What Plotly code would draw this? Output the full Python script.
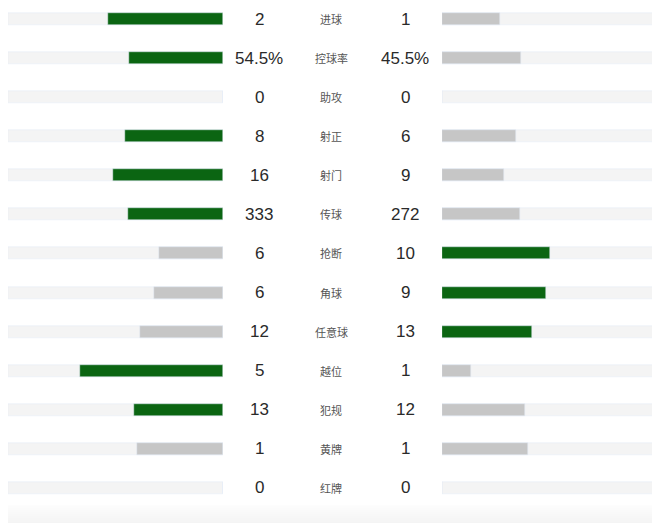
import plotly.graph_objects as go

labels = ["进球", "控球率", "助攻", "射正", "射门", "传球", "抢断", "角球", "任意球", "越位", "犯规", "黄牌", "红牌"]
home_values = [2, 54.5, 0, 8, 16, 333, 6, 6, 12, 5, 13, 1, 0]
away_values = [1, 45.5, 0, 6, 9, 272, 10, 9, 13, 1, 12, 1, 0]
home_text = ["2", "54.5%", "0", "8", "16", "333", "6", "6", "12", "5", "13", "1", "0"]
away_text = ["1", "45.5%", "0", "6", "9", "272", "10", "9", "13", "1", "12", "1", "0"]

GREEN = "#0b6512"
GRAY = "#c6c6c6"
TRACK = "#f4f4f4"
SCALE = 0.8

n = len(labels)
rows = list(range(n))

totals = [h + a for h, a in zip(home_values, away_values)]
home_frac = [0 if t == 0 else h / t * SCALE for h, t in zip(home_values, totals)]
away_frac = [0 if t == 0 else a / t * SCALE for a, t in zip(away_values, totals)]
home_col = [GREEN if h > a else GRAY for h, a in zip(home_values, away_values)]
away_col = [GREEN if a > h else GRAY for h, a in zip(home_values, away_values)]

# page body has an 8px default margin; work in page pixels and offset
OFF = 8
W, H = 660 - OFF, 523 - OFF

def px(x):
    return (x - OFF) / W

row0, step = 19 - OFF, 39.08
y_top = -row0 / step
y_bot = (H - row0) / step
bw = 12 / step

fig = go.Figure()
fig.add_trace(go.Bar(x=[1] * n, y=rows, orientation="h", marker_color=TRACK, width=bw,
                     xaxis="x", yaxis="y", hoverinfo="skip", showlegend=False))
fig.add_trace(go.Bar(x=home_frac, y=rows, orientation="h", marker_color=home_col, width=bw,
                     xaxis="x", yaxis="y", showlegend=False))
fig.add_trace(go.Bar(x=[1] * n, y=rows, orientation="h", marker_color=TRACK, width=bw,
                     xaxis="x2", yaxis="y", hoverinfo="skip", showlegend=False))
fig.add_trace(go.Bar(x=away_frac, y=rows, orientation="h", marker_color=away_col, width=bw,
                     xaxis="x2", yaxis="y", showlegend=False))

num_font = dict(size=17, color="#2a2a2a", family="Liberation Sans, Arial, sans-serif")
lab_font = dict(size=11, color="#555555", family="Noto Sans CJK SC, sans-serif")
ann = []
for i in range(n):
    ann.append(dict(x=px(259), y=i, xref="paper", yref="y", text=home_text[i], showarrow=False, font=num_font))
    ann.append(dict(x=px(405), y=i, xref="paper", yref="y", text=away_text[i], showarrow=False, font=num_font))
    ann.append(dict(x=px(331), y=i, xref="paper", yref="y", text=labels[i], showarrow=False, font=lab_font))

shapes = []
for k in range(18):
    y0 = 505 - OFF + k
    a = 0.008 + k * 0.002
    shapes.append(dict(type="rect", xref="paper", yref="paper", x0=-0.05, x1=1.05,
                       y0=1 - (y0 + 1) / H, y1=1 - y0 / H, line_width=0,
                       fillcolor=f"rgba(0,0,0,{a:.4f})", layer="below"))

fig.update_layout(
    width=W, height=H, margin=dict(l=0, r=0, t=0, b=0),
    paper_bgcolor="white", plot_bgcolor="rgba(0,0,0,0)",
    barmode="overlay", bargap=0,
    xaxis=dict(domain=[px(8), px(223)], range=[1, 0], visible=False, fixedrange=True),
    xaxis2=dict(domain=[px(442), px(658)], range=[0, 1], visible=False, fixedrange=True, anchor="y"),
    yaxis=dict(domain=[0, 1], range=[y_bot, y_top], visible=False, fixedrange=True),
    annotations=ann, shapes=shapes,
)
fig.write_html("out.html")
